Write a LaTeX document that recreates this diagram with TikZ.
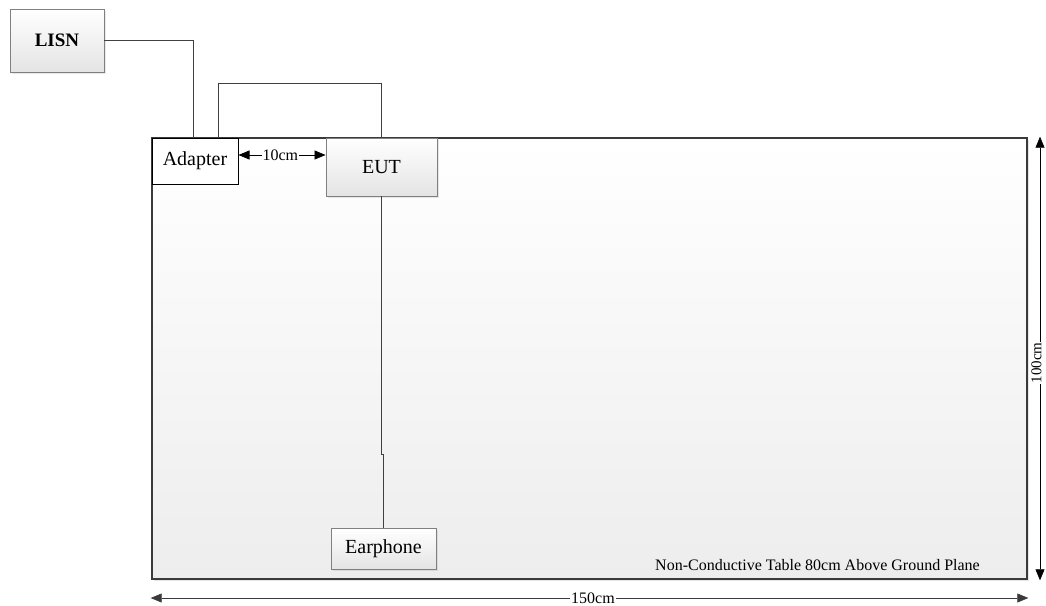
\documentclass[tikz,border=0pt]{standalone}
\usepackage{fontspec}
\setmainfont{Liberation Serif}
\usetikzlibrary{arrows.meta,shadows}
\definecolor{tborder}{HTML}{3A3A3A}
\definecolor{bborder}{HTML}{808080}
\definecolor{gradbot}{HTML}{E4E4E4}
\definecolor{tablebot}{HTML}{EDEDED}
\begin{document}
\begin{tikzpicture}[x=1pt,y=-1pt,
  box/.style={draw=bborder, line width=0.9pt, top color=white, bottom color=gradbot, inner sep=0pt,
    drop shadow={opacity=0.18, shadow xshift=1.5pt, shadow yshift=-1.5pt}},
  cable/.style={draw=black!75, line width=0.9pt},
  dimarrow/.style={line width=0.7pt, {Triangle[length=11pt,width=9pt]}-{Triangle[length=11pt,width=9pt]}},
  lbl/.style={font=\fontsize{16}{17}\selectfont, inner sep=1pt},
  big/.style={font=\fontsize{20}{21}\selectfont}]
\useasboundingbox (0,0) rectangle (1046,605);
% table
\node[draw=tborder, line width=2.6pt, top color=white, bottom color=tablebot, minimum width=875pt, minimum height=441pt, inner sep=0pt,
  drop shadow={opacity=0.2, shadow xshift=2pt, shadow yshift=-2pt}] (table) at (589.5,358.5) {};
\node[lbl] (tlabel) at (817.5,565) {Non-Conductive Table 80cm Above Ground Plane};
% boxes
\node[box, minimum width=94pt, minimum height=63pt, font=\bfseries\fontsize{19}{20}\selectfont] (lisn) at (57,40.5) {LISN};
\node[draw=black, line width=1pt, fill=white, minimum width=86pt, minimum height=46pt, inner sep=0pt, big] (adapter) at (195,161) {Adapter};
\node[box, minimum width=111pt, minimum height=58pt, big] (eut) at (381.5,167) {EUT};
\node[box, minimum width=105pt, minimum height=41pt, big] (ear) at (383.5,548.5) {Earphone};
% cables
\draw[cable] (lisn.east) -| ([xshift=-2pt]adapter.north);
\draw[cable] ([xshift=23pt]adapter.north) -- ++(0,-54) -| (eut.north);
\draw[cable] (eut.south) -- (eut.south |- 0,454) -| (ear.north);
% dimensions
\draw[dimarrow, black] ([yshift=6pt]adapter.east) -- node[lbl, fill=white, pos=0.48] (d10) {10cm} ([yshift=12pt]eut.west);
\draw[dimarrow, draw=tborder, line width=0.6pt] (table.south west |- 0,598) -- node[lbl, fill=white, pos=0.504] (d150) {150cm} (table.south east |- 0,598);
\draw[dimarrow, black, line width=0.6pt] (1040,0 |- table.north) -- node[lbl, fill=white, pos=0.51, xshift=-3.5pt, rotate=90, font=\fontsize{15}{16}\selectfont, inner sep=0.5pt] (d100) {100cm} (1040,0 |- table.south);
\end{tikzpicture}
\end{document}
